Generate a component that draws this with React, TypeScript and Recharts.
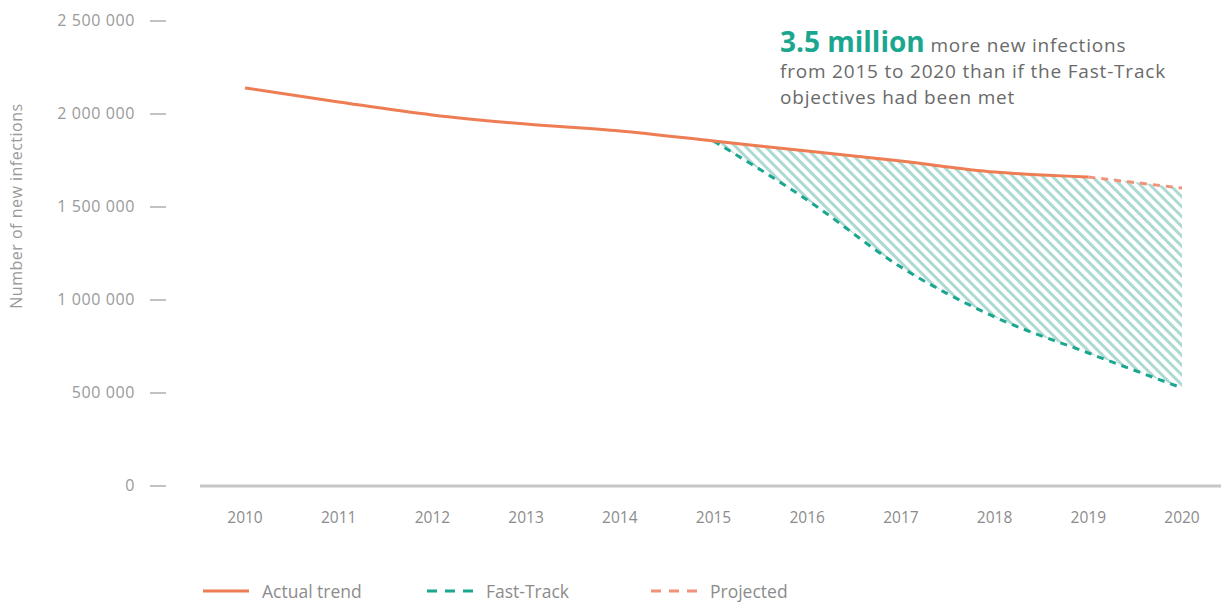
import { ComposedChart, Line, Area, XAxis, YAxis } from 'recharts'

const years = [2010, 2011, 2012, 2013, 2014, 2015, 2016, 2017, 2018, 2019, 2020]
const actualTrend = [2140000, 2065000, 1995000, 1946000, 1909000, 1855000, 1801000, 1747000, 1688000, 1661000, null]
const projected = [null, null, null, null, null, null, null, null, null, 1661000, 1602000]
const fastTrack = [null, null, null, null, null, 1855000, 1538000, 1177000, 909000, 715000, 527000]
const yTicks = [0, 500000, 1000000, 1500000, 2000000, 2500000]

const data = years.map((year, i) => ({
  year,
  actual: actualTrend[i],
  projected: projected[i],
  fastTrack: fastTrack[i],
  gap: fastTrack[i] != null ? [fastTrack[i], actualTrend[i] ?? projected[i]] : null,
}))

const ORANGE = '#ee7d54'
const PROJ = '#f0937b'
const TEAL = '#1aa68f'
const GREY = '#9a9a9a'
const FONT = '"Open Sans", Lato, sans-serif'

const fmt = (n: number) => n.toLocaleString('en-US').replace(/,/g, ' ')

const YTick = ({ x, y, payload }: any) => (
  <g>
    <text
      x={x - 65}
      y={y}
      dy={5}
      textAnchor="end"
      fill={GREY}
      fontSize={16}
      letterSpacing={0.6}
      fontFamily={FONT}
    >
      {fmt(payload.value)}
    </text>
    <line x1={x - 50} x2={x - 34} y1={y} y2={y} stroke={GREY} strokeWidth={1.2} />
  </g>
)

const YLabel = () => (
  <text
    x={18}
    y={206}
    transform="rotate(-90, 18, 206)"
    textAnchor="middle"
    dominantBaseline="middle"
    fill={GREY}
    fontSize={16}
    letterSpacing={0.5}
    fontFamily={FONT}
  >
    Number of new infections
  </text>
)

const LegendItem = ({ color, dashed, label }: { color: string; dashed?: boolean; label: string }) => (
  <div style={{ display: 'flex', alignItems: 'center', width: 224 }}>
    <svg width={46} height={10} style={{ marginRight: 13 }}>
      <line
        x1={0}
        x2={46}
        y1={5}
        y2={5}
        stroke={color}
        strokeWidth={3}
        strokeDasharray={dashed ? '10 8' : undefined}
      />
    </svg>
    <span>{label}</span>
  </div>
)

const App = () => {
  return (
    <div
      style={{
        position: 'absolute',
        left: 0,
        top: 0,
        width: 1221,
        height: 602,
        background: '#fff',
        fontFamily: FONT,
        overflow: 'hidden',
      }}
    >
      <ComposedChart width={1221} height={602} data={data} margin={{ top: 21, right: 0, left: 0, bottom: 56 }}>
        <defs>
          <pattern id="hatch" width="7" height="7" patternUnits="userSpaceOnUse" patternTransform="rotate(-45)">
            <rect width="7" height="7" fill="#ffffff" />
            <line x1="3.5" y1="0" x2="3.5" y2="7" stroke="#acd9d2" strokeWidth="3" />
          </pattern>
        </defs>
        <XAxis
          dataKey="year"
          type="number"
          domain={[2010, 2020]}
          ticks={years}
          padding={{ left: 45, right: 39 }}
          height={60}
          axisLine={{ stroke: '#c6c6c6', strokeWidth: 3 }}
          tickLine={false}
          tickSize={0}
          tickMargin={26}
          tick={{ fill: '#8c8c8c', fontSize: 15.5, fontFamily: FONT }}
        />
        <YAxis
          width={200}
          domain={[0, 2500000]}
          ticks={yTicks}
          axisLine={false}
          tickLine={false}
          tickSize={0}
          tickMargin={0}
          tick={<YTick />}
          label={() => <YLabel />}
        />
        <Area
          dataKey="gap"
          type="monotone"
          stroke="none"
          fill="url(#hatch)"
          fillOpacity={1}
          isAnimationActive={false}
          activeDot={false}
        />
        <Line
          dataKey="fastTrack"
          type="monotone"
          stroke={TEAL}
          strokeWidth={3}
          strokeDasharray="7 6"
          dot={false}
          isAnimationActive={false}
        />
        <Line
          dataKey="projected"
          type="monotone"
          stroke={PROJ}
          strokeWidth={3}
          strokeDasharray="7 6"
          dot={false}
          isAnimationActive={false}
        />
        <Line
          dataKey="actual"
          type="monotone"
          stroke={ORANGE}
          strokeWidth={3}
          dot={false}
          isAnimationActive={false}
        />
      </ComposedChart>

      <div
        style={{
          position: 'absolute',
          left: 780,
          top: 28,
          color: '#6a6a6a',
          fontSize: 19,
          lineHeight: '26px',
          letterSpacing: 0.8,
          whiteSpace: 'nowrap',
        }}
      >
        <div>
          <span style={{ color: TEAL, fontWeight: 700, fontSize: 28, letterSpacing: 0 }}>3.5 million</span>
          <span> more new infections</span>
        </div>
        <div>from 2015 to 2020 than if the Fast-Track</div>
        <div>objectives had been met</div>
      </div>

      <div
        style={{
          position: 'absolute',
          left: 203,
          top: 580,
          display: 'flex',
          color: '#8c8c8c',
          fontSize: 17.5,
          lineHeight: '22px',
        }}
      >
        <LegendItem color={ORANGE} label="Actual trend" />
        <LegendItem color={TEAL} dashed label="Fast-Track" />
        <LegendItem color={PROJ} dashed label="Projected" />
      </div>
    </div>
  )
}

export default App
